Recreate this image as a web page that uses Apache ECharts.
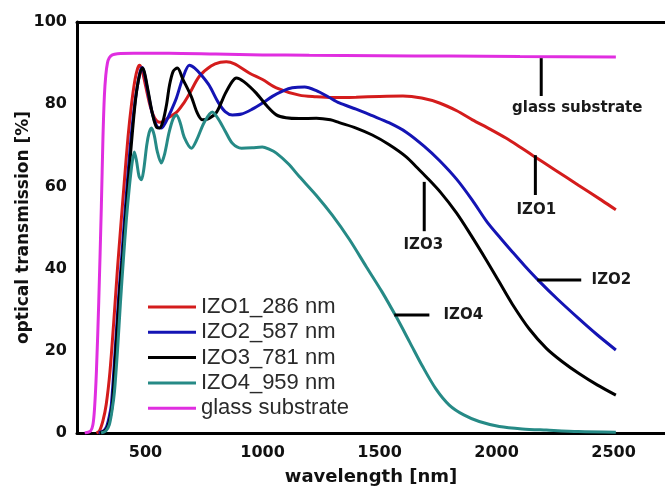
<!DOCTYPE html>
<html><head><meta charset="utf-8">
<script src="https://cdn.jsdelivr.net/npm/echarts@6/dist/echarts.min.js"></script>
<style>html,body{margin:0;padding:0;background:#fff}#c{width:665px;height:486px}</style>
</head><body><div id="c"></div>
<script>
const xTickLabels = [500, 1000, 1500, 2000, 2500];
const yTicks = {min: 0, max: 100, interval: 20};
const seriesNames = ['IZO1_286 nm', 'IZO2_587 nm', 'IZO3_781 nm', 'IZO4_959 nm', 'glass substrate'];
const seriesColors = ['#d41c1c', '#1414b4', '#000000', '#268a86', '#e02ee0'];

const izo1 = [[290,0],[303,0.5],[318,3],[332,7],[348,15],[364,27],[380,40],[395,51],[409,61],[425,72],[440,80],[455,86],[466,88.7],[474,89.5],[484,88.5],[500,84.5],[520,79.5],[540,76.5],[560,75.6],[575,75.8],[600,76.8],[632,78],[660,80],[687,82.5],[730,86.8],[780,89.3],[820,90.2],[845,90.3],[880,89.8],[943,87.6],[1000,86],[1059,84],[1157,82.2],[1230,81.8],[1300,81.6],[1400,81.7],[1500,81.9],[1600,82.0],[1680,81.5],[1756,80.3],[1830,78.4],[1897,76.2],[1970,74],[2042,71.7],[2100,69.6],[2153,67.6],[2250,64],[2350,60.3],[2450,56.6],[2510,54.3]];

const izo2 = [[300,0],[320,0.5],[333,1.5],[345,4],[354,7],[370,20],[385,33],[397,42],[410,52],[422,61],[440,73],[456,81],[470,86],[480,88.5],[486,88.9],[495,87.5],[510,83],[530,77.5],[550,74.5],[567,74.2],[585,75.5],[610,78.5],[632,81.5],[660,86.5],[687,89.5],[710,88.8],[740,87],[773,84.5],[810,80.5],[840,78.2],[871,77.4],[910,77.6],[956,78.8],[1000,80.3],[1042,81.9],[1090,83.3],[1127,84],[1180,84.2],[1230,83.3],[1280,81.8],[1328,80.3],[1400,78.8],[1469,77.2],[1540,75.5],[1614,73.2],[1690,69.8],[1756,66.3],[1830,61.7],[1897,56.6],[1960,51.3],[2020,47.2],[2067,44.1],[2120,40.7],[2183,36.9],[2260,32.6],[2354,27.7],[2430,23.9],[2510,20.2]];

const izo3 = [[305,0],[325,0.5],[338,1.5],[350,4],[358,7],[375,22],[390,35],[402,43],[415,53],[427,62],[445,74],[458,81.5],[472,86.5],[486,88.8],[495,87.8],[510,83.5],[530,77.5],[548,74.3],[560,74.2],[575,76],[590,80],[602,84.5],[618,88],[636,88.8],[660,86],[696,81.8],[720,78],[743,76.2],[770,76.5],[803,78],[840,82.5],[870,85.5],[888,86.4],[920,85.5],[973,82.7],[1020,79.5],[1059,77.4],[1100,76.7],[1157,76.5],[1230,76.6],[1290,76.2],[1328,75.5],[1400,74.2],[1469,72.5],[1540,70.2],[1614,67.2],[1660,64.6],[1700,62.3],[1760,58.6],[1828,53.6],[1890,48.2],[1956,42.1],[2010,36.9],[2067,31.4],[2140,25.3],[2213,20.6],[2280,17.4],[2354,14.4],[2430,11.7],[2510,9.2]];

const izo4 = [[310,0],[330,0.5],[345,2],[358,6],[367,10],[380,20],[393,32],[405,42],[418,52],[431,60],[442,65.5],[452,68.4],[462,66],[472,62.5],[482,61.6],[492,64],[505,70],[515,73],[525,74.2],[537,72.5],[550,68.5],[567,65.7],[582,68],[600,73],[618,76.5],[632,77.4],[648,75.5],[665,72],[696,69.3],[720,71.5],[750,75.5],[785,78.1],[810,76.5],[840,73.5],[871,70.5],[910,69.3],[956,69.4],[999,69.6],[1030,69],[1059,68.1],[1110,65.5],[1157,62.4],[1230,57.8],[1298,53],[1370,47.2],[1444,40.4],[1510,34.4],[1572,28.2],[1630,22],[1683,16.3],[1740,10.8],[1798,6.8],[1860,4.4],[1926,2.8],[2012,1.6],[2110,1.0],[2213,0.7],[2350,0.35],[2510,0.2]];

const glass = [[240,0],[265,0.5],[275,2],[282,6],[290,15],[300,32],[311,55],[318,72],[324,82],[330,87],[337,90],[345,91.3],[358,92],[380,92.3],[450,92.4],[600,92.4],[800,92.2],[1000,92],[1200,91.9],[1500,91.8],[1800,91.7],[2100,91.6],[2510,91.5]];

const seriesData = [izo1, izo2, izo3, izo4, glass];

// annotation callouts in data coordinates
const annotations = [
  {text: 'glass substrate', line: [[2191, 91.2], [2191, 82.0]], label: [2345, 79.1]},
  {text: 'IZO1', line: [[2166, 67.6], [2166, 57.9]], label: [2170, 54.3]},
  {text: 'IZO3', line: [[1691, 61.1], [1691, 49.1]], label: [1687, 45.6]},
  {text: 'IZO2', line: [[2174, 37.2], [2362, 37.2]], label: [2491, 37.2]},
  {text: 'IZO4', line: [[1563, 28.7], [1713, 28.7]], label: [1858, 28.7]}
];

const chart = echarts.init(document.getElementById('c'));
const axisLine = {show: true, lineStyle: {color: '#000', width: 3}};
chart.setOption({
  animation: false,
  backgroundColor: '#fff',
  grid: {left: 77, right: 0, top: 22, bottom: 53, containLabel: false, outerBoundsMode: 'none'},
  legend: {
    orient: 'vertical', left: 148, top: 296, padding: 0,
    icon: 'rect', itemWidth: 48, itemHeight: 3, itemGap: 3.3,
    data: seriesNames,
    textStyle: {fontFamily: 'Liberation Sans', fontSize: 22, color: '#2a2a2a'}
  },
  xAxis: [{
    type: 'value', min: 207, max: 2720, position: 'bottom',
    name: 'wavelength [nm]', nameLocation: 'middle', nameGap: 35, nameMoveOverlap: false,
    nameTextStyle: {fontFamily: 'DejaVu Sans', fontWeight: 'bold', fontSize: 18, color: '#111'},
    axisLine: axisLine, axisTick: {show: false}, splitLine: {show: false},
    axisLabel: {customValues: xTickLabels, formatter: v => String(v), fontFamily: 'DejaVu Sans', fontWeight: 'bold', fontSize: 16, color: '#111', margin: 12}
  }, {
    type: 'value', min: 207, max: 2720, position: 'top',
    axisLine: axisLine, axisTick: {show: false}, splitLine: {show: false}, axisLabel: {show: false}
  }],
  yAxis: {
    type: 'value', min: yTicks.min, max: yTicks.max, interval: yTicks.interval,
    name: 'optical transmission [%]', nameLocation: 'middle', nameGap: 45, nameMoveOverlap: false,
    nameTextStyle: {fontFamily: 'DejaVu Sans', fontWeight: 'bold', fontSize: 17, color: '#111'},
    axisLine: axisLine, axisTick: {show: false}, splitLine: {show: false},
    axisLabel: {fontFamily: 'DejaVu Sans', fontWeight: 'bold', fontSize: 16, color: '#111', margin: 10}
  },
  series: seriesNames.map((n, i) => ({
    name: n, type: 'line', data: seriesData[i], symbol: 'none', smooth: 0.3,
    lineStyle: {color: seriesColors[i], width: 3}, itemStyle: {color: seriesColors[i]},
    z: 2 + i
  }))
});

const g = [];
annotations.forEach(a => {
  const p1 = chart.convertToPixel({xAxisIndex: 0, yAxisIndex: 0}, a.line[0]);
  const p2 = chart.convertToPixel({xAxisIndex: 0, yAxisIndex: 0}, a.line[1]);
  const pl = chart.convertToPixel({xAxisIndex: 0, yAxisIndex: 0}, a.label);
  g.push({type: 'line', shape: {x1: p1[0], y1: p1[1], x2: p2[0], y2: p2[1]}, style: {stroke: '#000', lineWidth: 3}, z: 100});
  g.push({type: 'text', x: pl[0], y: pl[1], style: {text: a.text, align: 'center', verticalAlign: 'middle', font: 'bold 15px "DejaVu Sans"', fill: '#1a1a1a'}, z: 100});
});
chart.setOption({graphic: g});
</script></body></html>
